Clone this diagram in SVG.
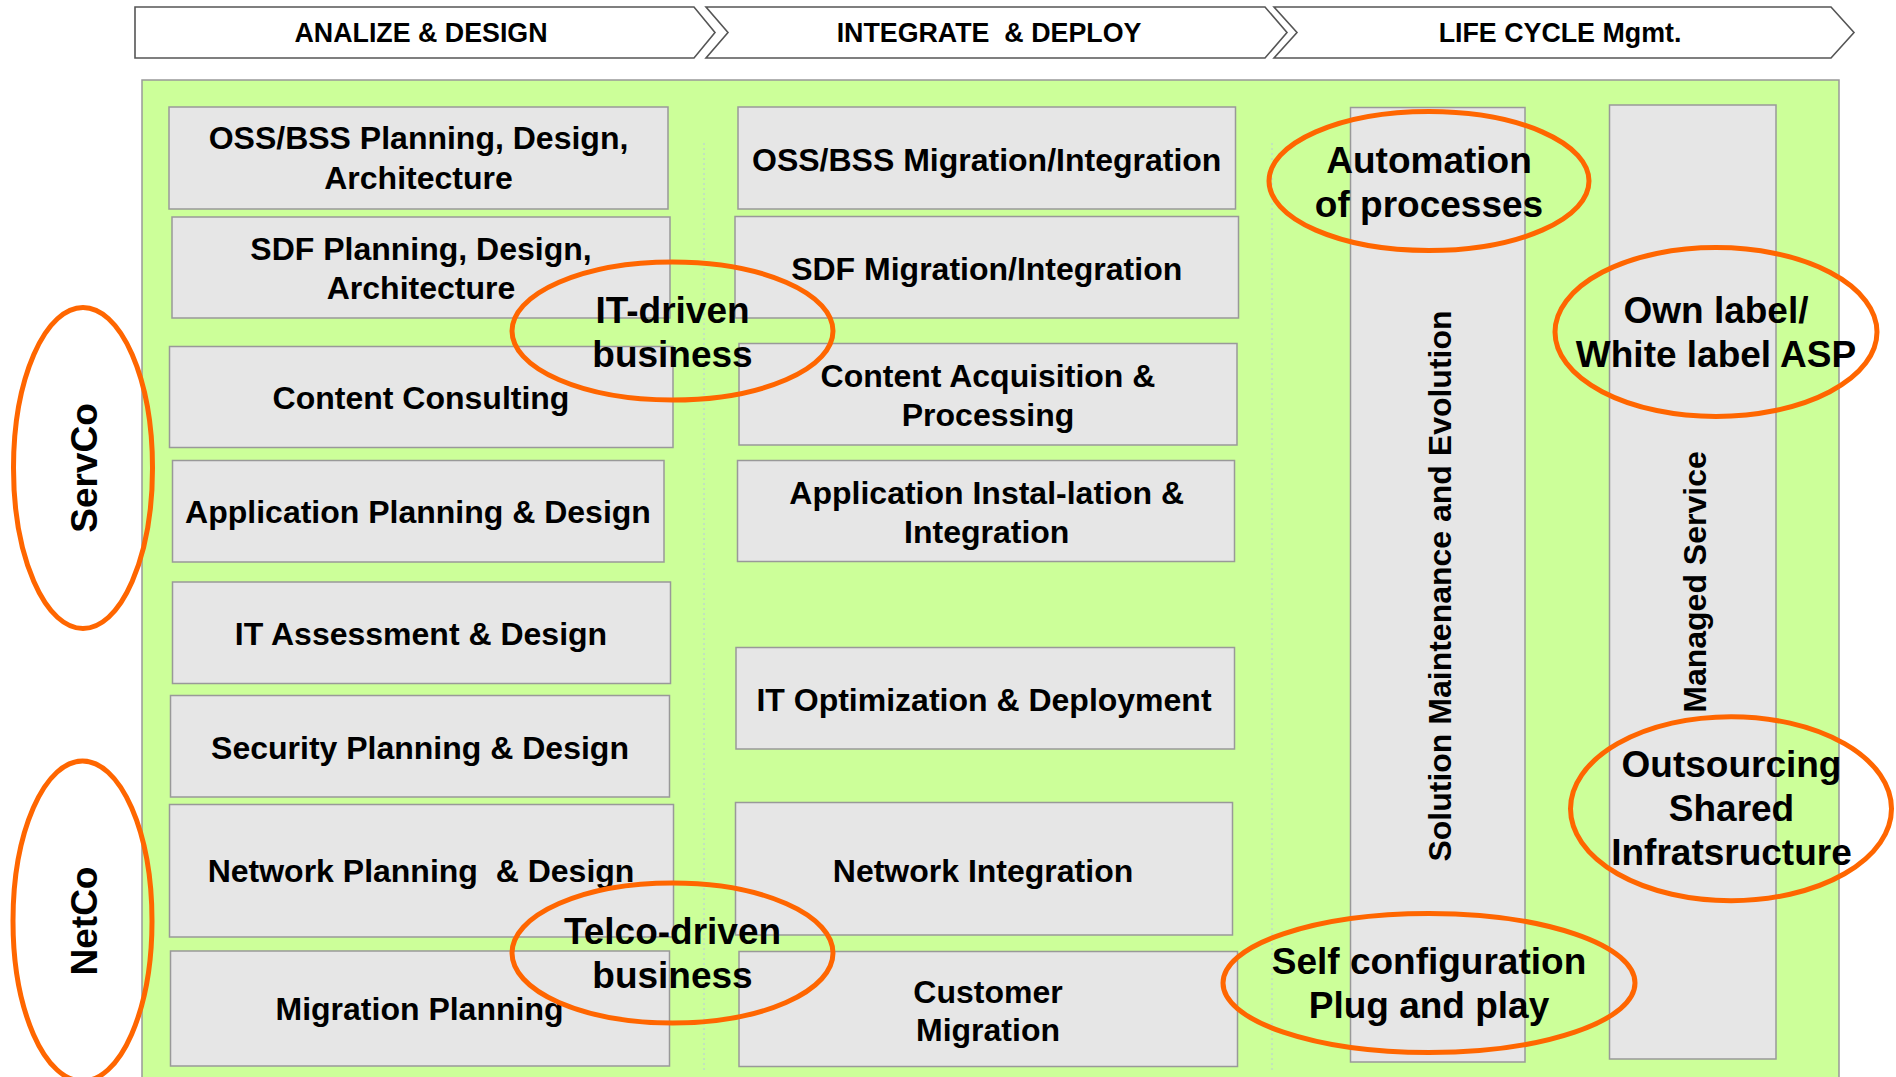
<svg xmlns="http://www.w3.org/2000/svg" width="1896" height="1077" viewBox="0 0 1896 1077">
<style>
.hdr{fill:#fff;stroke:#555;stroke-width:1.6}
.ht{font-family:"Liberation Sans",Arial,sans-serif;font-weight:bold;font-size:26.8px;fill:#000;text-anchor:middle}
.box{fill:#E6E6E6;stroke:#999;stroke-width:1.5}
.bt{font-family:"Liberation Sans",Arial,sans-serif;font-weight:bold;font-size:32px;fill:#000;text-anchor:middle}
.vt{font-family:"Liberation Sans",Arial,sans-serif;font-weight:bold;font-size:32px;fill:#000;text-anchor:middle}
.ot{font-family:"Liberation Sans",Arial,sans-serif;font-weight:bold;font-size:37px;fill:#000;text-anchor:middle}
.et{font-family:"Liberation Sans",Arial,sans-serif;font-weight:bold;font-size:37px;fill:#000;text-anchor:middle}
.ell{fill:none;stroke:#FF6600;stroke-width:5}
.sep{stroke:#B8C8E0;stroke-width:1;stroke-dasharray:2 3}
</style>
<rect x="0" y="0" width="1896" height="1077" fill="#fff"/>

<g id="phase-analyze">
<path class="hdr" d="M135,7 H694 L715,32.5 L694,58 H135 Z"/>
<text class="ht" x="421" y="42">ANALIZE &amp; DESIGN</text>
</g>
<g id="phase-integrate">
<path class="hdr" d="M706,7 H1265 L1287,32.5 L1265,58 H706 L728,32.5 Z"/>
<text class="ht" x="989" y="42" xml:space="preserve">INTEGRATE  &amp; DEPLOY</text>
</g>
<g id="phase-lifecycle">
<path class="hdr" d="M1274,7 H1831 L1854,32.5 L1831,58 H1274 L1297,32.5 Z"/>
<text class="ht" x="1560" y="42">LIFE CYCLE Mgmt.</text>
</g>

<g id="background">
<rect x="142" y="80" width="1697" height="1010" fill="#CCFF99" stroke="#999" stroke-width="1.5"/>
</g>

<g id="separators">
<line class="sep" x1="704" y1="143" x2="704" y2="1070"/>
<line class="sep" x1="1272" y1="143" x2="1272" y2="1070"/>
</g>

<g id="oss-bss-planning">
<rect class="box" x="169" y="107" width="499" height="102"/>
<text class="bt" x="418.5" y="149">OSS/BSS Planning, Design,</text>
<text class="bt" x="418.5" y="189">Architecture</text>
</g>
<g id="sdf-planning">
<rect class="box" x="172" y="217" width="498" height="101"/>
<text class="bt" x="421" y="260">SDF Planning, Design,</text>
<text class="bt" x="421" y="299">Architecture</text>
</g>
<g id="content-consulting">
<rect class="box" x="169.5" y="346.5" width="503.5" height="101"/>
<text class="bt" x="421" y="409">Content Consulting</text>
</g>
<g id="application-planning">
<rect class="box" x="172.5" y="460.5" width="491.5" height="101.5"/>
<text class="bt" x="418" y="523">Application Planning &amp; Design</text>
</g>
<g id="it-assessment">
<rect class="box" x="172.5" y="582" width="498" height="101.5"/>
<text class="bt" x="421" y="644.5">IT Assessment &amp; Design</text>
</g>
<g id="security-planning">
<rect class="box" x="170.5" y="695.5" width="499" height="101.5"/>
<text class="bt" x="420" y="758.5">Security Planning &amp; Design</text>
</g>
<g id="network-planning">
<rect class="box" x="169.5" y="804.5" width="504" height="132.5"/>
<text class="bt" x="421" y="882" xml:space="preserve">Network Planning  &amp; Design</text>
</g>
<g id="migration-planning">
<rect class="box" x="170.5" y="951" width="499" height="115"/>
<text class="bt" x="419.5" y="1020">Migration Planning</text>
</g>

<g id="oss-bss-migration">
<rect class="box" x="738" y="107" width="497.5" height="102"/>
<text class="bt" x="986.7" y="170.5">OSS/BSS Migration/Integration</text>
</g>
<g id="sdf-migration">
<rect class="box" x="735" y="216.5" width="503.5" height="101.5"/>
<text class="bt" x="986.7" y="279.5">SDF Migration/Integration</text>
</g>
<g id="content-acquisition">
<rect class="box" x="739" y="343.5" width="498" height="101.5"/>
<text class="bt" x="988" y="387">Content Acquisition &amp;</text>
<text class="bt" x="988" y="426">Processing</text>
</g>
<g id="application-installation">
<rect class="box" x="737.5" y="460.5" width="497" height="101"/>
<text class="bt" x="986.7" y="504">Application Instal-lation &amp;</text>
<text class="bt" x="986.7" y="543">Integration</text>
</g>
<g id="it-optimization">
<rect class="box" x="736" y="647.5" width="498.5" height="101.5"/>
<text class="bt" x="984" y="711">IT Optimization &amp; Deployment</text>
</g>
<g id="network-integration">
<rect class="box" x="735.5" y="802.5" width="497" height="132.5"/>
<text class="bt" x="983" y="881.5">Network Integration</text>
</g>
<g id="customer-migration">
<rect class="box" x="739" y="951.5" width="498.5" height="115"/>
<text class="bt" x="988" y="1002.5">Customer</text>
<text class="bt" x="988" y="1041">Migration</text>
</g>

<g id="solution-maintenance">
<rect class="box" x="1350.5" y="107.5" width="174.5" height="954.5"/>
<text class="vt" transform="translate(1451,586) rotate(-90)" x="0" y="0">Solution Maintenance and Evolution</text>
</g>
<g id="managed-service">
<rect class="box" x="1609.5" y="105" width="166.5" height="954"/>
<text class="vt" transform="translate(1706,582) rotate(-90)" x="0" y="0">Managed Service</text>
</g>

<g id="servco">
<ellipse class="ell" cx="83" cy="468" rx="69.5" ry="160.5"/>
<text class="ot" transform="translate(97,468) rotate(-90)" x="0" y="0">ServCo</text>
</g>
<g id="netco">
<ellipse class="ell" cx="82.5" cy="921" rx="69.5" ry="160"/>
<text class="ot" transform="translate(97,921) rotate(-90)" x="0" y="0">NetCo</text>
</g>

<g id="it-driven">
<ellipse class="ell" cx="672.5" cy="331" rx="160.5" ry="69"/>
<text class="et" x="672.5" y="323">IT-driven</text>
<text class="et" x="672.5" y="367">business</text>
</g>
<g id="telco-driven">
<ellipse class="ell" cx="672.5" cy="953" rx="160.5" ry="70"/>
<text class="et" x="672.5" y="944">Telco-driven</text>
<text class="et" x="672.5" y="988">business</text>
</g>
<g id="automation">
<ellipse class="ell" cx="1429" cy="181" rx="160" ry="69.5"/>
<text class="et" x="1429" y="173">Automation</text>
<text class="et" x="1429" y="217">of processes</text>
</g>
<g id="own-label">
<ellipse class="ell" cx="1716" cy="332" rx="161" ry="84.5"/>
<text class="et" x="1716" y="323">Own label/</text>
<text class="et" x="1716" y="367">White label ASP</text>
</g>
<g id="outsourcing">
<ellipse class="ell" cx="1731" cy="808.7" rx="160.5" ry="92"/>
<text class="et" x="1731.5" y="777">Outsourcing</text>
<text class="et" x="1731.5" y="821">Shared</text>
<text class="et" x="1731.5" y="865">Infratsructure</text>
</g>
<g id="self-configuration">
<ellipse class="ell" cx="1429" cy="983" rx="206" ry="69.5"/>
<text class="et" x="1429" y="974">Self configuration</text>
<text class="et" x="1429" y="1018">Plug and play</text>
</g>
</svg>
